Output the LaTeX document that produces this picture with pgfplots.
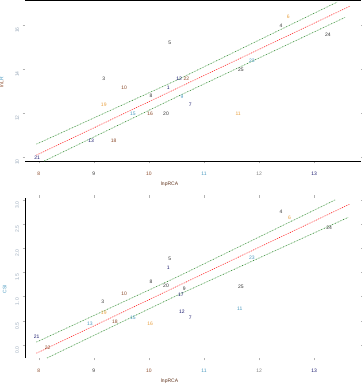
\documentclass[border=0pt]{standalone}
\usepackage{pgfplots}
\pgfplotsset{compat=1.18}
\usepackage{fontspec}
\setmainfont{Liberation Sans}
\definecolor{cnavy}{HTML}{1A1A6E}
\definecolor{corange}{HTML}{E8A040}
\definecolor{cbrown}{HTML}{8B4A2A}
\definecolor{cteal}{HTML}{4A9AC0}
\definecolor{cdark}{HTML}{333333}
\definecolor{cpale}{HTML}{9AAABB}
\definecolor{cgreen}{HTML}{1E7A1E}
\pgfplotsset{
  myax/.style={
    scale only axis, width=336pt, xmin=7.75, xmax=13.85,
    axis line style={draw=none},
    xtick={8,9,10,11,12,13},
    xticklabels={\textcolor{cbrown}{8},\textcolor{cdark}{9},\textcolor{cbrown}{10},\textcolor{cteal}{11},\textcolor{gray}{12},\textcolor{cnavy}{13}},
    tick align=outside, major tick length=2.5pt,
    tick style={gray!60, line width=0.5pt},
    x tick label style={font=\fontsize{5}{6}\selectfont, yshift=-5pt},
    y tick label style={font=\fontsize{5}{6}\selectfont, rotate=90, anchor=south, xshift=-5pt, text=cpale},
    /pgf/number format/assume math mode=true,
    every axis x label/.style={at={(rel axis cs:0.43,0)}, anchor=north, yshift=-17pt, font=\fontsize{5}{6}\selectfont, text=cbrown!70!black},
    clip=false,
    nodes near coords, point meta=explicit symbolic,
    every node near coord/.append style={anchor=center, font=\fontsize{5}{6}\selectfont, inner sep=0pt},
  },
  lab/.style={only marks, mark=none, every node near coord/.append style={text=#1}},
  redln/.style={no markers, nodes near coords={}, line width=0.6pt, red!20},
  redd/.style={no markers, nodes near coords={}, line width=0.6pt, red, dash pattern=on 0.6pt off 1.8pt},
  grnln/.style={no markers, nodes near coords={}, line width=0.6pt, green!50!black!25},
  grnd/.style={no markers, nodes near coords={}, line width=0.6pt, cgreen, dash pattern=on 0.6pt off 2.4pt},
}
\begin{document}
\begin{tikzpicture}[x=1pt,y=1pt]
\useasboundingbox (0,0) rectangle (361,385);
% ---------- top panel ----------
\begin{axis}[myax, at={(25pt,224pt)}, anchor=south west, height=161pt,
  ymin=9.82, ymax=17.14, ytick={10,12,14,16},
  every axis y label/.style={at={(rel axis cs:0,0.49)}, rotate=90, anchor=south, yshift=18pt, font=\fontsize{5}{6}\selectfont},
  xlabel={lnpRCA}, ylabel={\textcolor{cbrown}{lnL}\textcolor{cteal}{R}}]
\draw[black, line width=0.9pt] (rel axis cs:0,1) -- (rel axis cs:1,1);
\draw[black, line width=0.9pt] (rel axis cs:0,0) -- (rel axis cs:1,0);
\addplot[redln] coordinates {(7.96,10.09) (13.65,16.86)};
\addplot[redd] coordinates {(7.96,10.09) (13.65,16.86)};
\addplot[grnln] coordinates {(7.96,10.59) (10.5,13.49) (13.42,17.05)};
\addplot[grnd] coordinates {(7.96,10.59) (10.5,13.49) (13.42,17.05)};
\addplot[grnln] coordinates {(8.1,9.82) (10.5,12.73) (13.56,16.35)};
\addplot[grnd] coordinates {(8.1,9.82) (10.5,12.73) (13.56,16.35)};
\addplot[lab=cnavy] coordinates {(7.97,9.95)[21] (10.35,13.14)[1] (10.75,12.36)[7] (8.95,10.73)[13] (10.55,13.55)[12]};
\addplot[lab=corange] coordinates {(9.18,12.36)[19] (11.62,11.95)[11] (12.53,16.36)[6]};
\addplot[lab=cbrown] coordinates {(9.55,13.14)[10] (10.02,11.95)[16] (9.36,10.73)[18] (10.68,13.55)[22]};
\addplot[lab=cteal] coordinates {(9.71,11.95)[15] (11.87,14.36)[23] (10.6,12.73)[9]};
\addplot[lab=cdark] coordinates {(10.38,15.18)[5] (9.18,13.55)[3] (10.04,12.77)[8] (10.31,11.95)[20] (12.4,15.95)[4] (13.25,15.55)[24] (11.67,13.95)[25]};
\end{axis}
% ---------- bottom panel ----------
\begin{axis}[myax, at={(25pt,27pt)}, anchor=south west, height=160pt,
  ymin=-0.27, ymax=3.04, ytick={0,0.5,1,1.5,2,2.5,3},
  yticklabel style={/pgf/number format/.cd, fixed, fixed zerofill, precision=1},
  every axis y label/.style={at={(rel axis cs:0,0.43)}, rotate=90, anchor=south, yshift=15pt, font=\fontsize{5}{6}\selectfont},
  xlabel={lnpRCA}, ylabel={\textcolor{cteal}{CSI}}]
\draw[black, line width=0.9pt] (rel axis cs:0,0) -- (rel axis cs:0,1);
\addplot[redln] coordinates {(7.96,-0.17) (13.64,2.91)};
\addplot[redd] coordinates {(7.96,-0.17) (13.64,2.91)};
\addplot[grnln] coordinates {(7.96,0.06) (10.5,1.40) (13.38,3.0)};
\addplot[grnd] coordinates {(7.96,0.06) (10.5,1.40) (13.38,3.0)};
\addplot[grnln] coordinates {(8.15,-0.27) (10.5,1.02) (13.62,2.64)};
\addplot[grnd] coordinates {(8.15,-0.27) (10.5,1.02) (13.62,2.64)};
\addplot[lab=cnavy] coordinates {(7.96,0.17)[21] (10.35,1.59)[1] (10.75,0.56)[7] (10.6,0.68)[12] (10.58,1.03)[17]};
\addplot[lab=corange] coordinates {(9.18,0.66)[19] (10.02,0.43)[16] (12.55,2.64)[6]};
\addplot[lab=cbrown] coordinates {(8.16,-0.06)[22] (9.55,1.05)[10] (9.38,0.48)[18]};
\addplot[lab=cteal] coordinates {(8.93,0.43)[13] (9.71,0.56)[15] (11.65,0.74)[11] (11.87,1.80)[23]};
\addplot[lab=cdark] coordinates {(9.16,0.89)[3] (10.04,1.30)[8] (10.31,1.22)[20] (10.38,1.78)[5] (10.64,1.16)[9] (11.67,1.20)[25] (12.4,2.75)[4] (13.27,2.42)[24]};
\end{axis}
\end{tikzpicture}
\end{document}
